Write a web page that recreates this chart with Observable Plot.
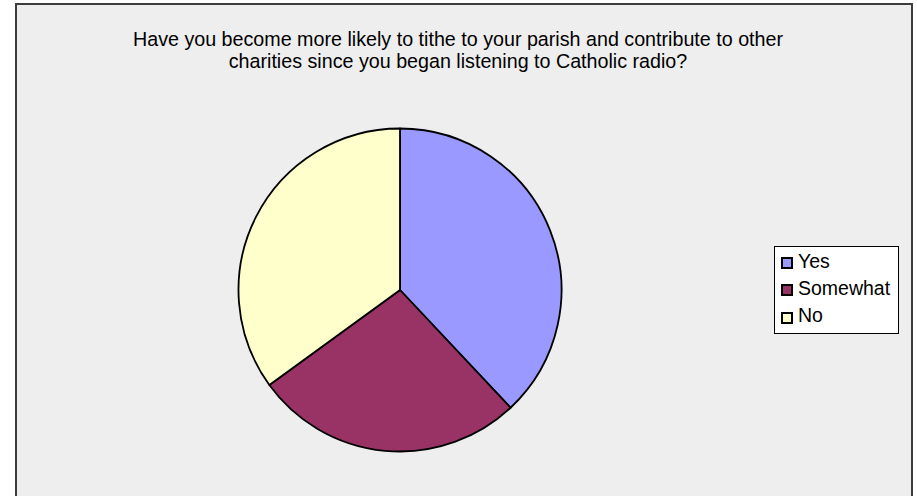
<!DOCTYPE html>
<html>
<head>
<meta charset="utf-8">
<script src="https://cdn.jsdelivr.net/npm/d3@7"></script>
<script src="https://cdn.jsdelivr.net/npm/@observablehq/plot@0.6"></script>
<style>
  html, body { margin: 0; padding: 0; background: #ffffff; width: 917px; height: 496px; overflow: hidden; }
  body { font-family: Arial, "Liberation Sans", sans-serif; position: relative; }
  #frame { position: absolute; left: 15px; top: 3px; width: 898px; height: 600px; box-sizing: border-box;
           background: #eeeeee; border: 2px solid #3c3c3c; }
  #title { position: absolute; left: 0; width: 916px; top: 29px; text-align: center; font-size: 19.7px;
           line-height: 21.6px; color: #000; }
  #chart { position: absolute; left: 0; top: 0; }
  #legend { position: absolute; left: 774px; top: 246px; width: 125px; height: 88px; box-sizing: border-box;
            background: #ffffff; border: 1px solid #000; }
  .sw { position: absolute; width: 12px; height: 12px; box-sizing: border-box; border: 2px solid #000; }
  .lt { position: absolute; font-size: 19.5px; line-height: 1; color: #000; white-space: nowrap; }
</style>
</head>
<body>
<div id="frame"></div>
<div id="title">Have you become more likely to tithe to your parish and contribute to other<br>charities since you began listening to Catholic radio?</div>
<div id="chart"></div>
<div id="legend"></div>
<script>
const answers = ["Yes", "Somewhat", "No"];
const shares = [38, 27, 35];
const colors = ["#9999ff", "#993366", "#ffffcc"];

const data = answers.map((a, i) => ({answer: a, value: shares[i]}));
const color = Plot.scale({color: {type: "ordinal", domain: answers, range: colors}});

const cx = 400, cy = 290, R = 161.5;

function pieMark(index, scales, values, dimensions) {
  const g = d3.create("svg:g");
  const arcs = d3.pie().sort(null).value(d => d.value)(data);
  const arc = d3.arc().innerRadius(0).outerRadius(R);
  g.attr("transform", `translate(${cx},${cy})`);
  g.selectAll("path").data(arcs).join("path")
    .attr("d", arc)
    .attr("fill", d => color.apply(d.data.answer))
    .attr("stroke", "#000")
    .attr("stroke-width", 1.8)
    .attr("stroke-linejoin", "round");
  return g.node();
}

const plot = Plot.plot({
  width: 917,
  height: 496,
  margin: 0,
  style: {background: "transparent", overflow: "visible"},
  x: {domain: [0, 917], axis: null},
  y: {domain: [0, 496], axis: null},
  marks: [pieMark]
});
document.getElementById("chart").appendChild(plot);

// legend
const legend = document.getElementById("legend");
const baselines = [269, 296, 323];
const swTops = [256.5, 284, 312];
answers.forEach((a, i) => {
  const sw = document.createElement("div");
  sw.className = "sw";
  sw.style.left = (781 - 775) + "px";
  sw.style.top = (swTops[i] - 247) + "px";
  sw.style.background = color.apply(a);
  legend.appendChild(sw);
  const t = document.createElement("div");
  t.className = "lt";
  t.textContent = a;
  t.style.left = (798 - 775) + "px";
  t.style.top = (baselines[i] - 0.8465 * 19.5 - 247) + "px";
  legend.appendChild(t);
});
</script>
</body>
</html>
